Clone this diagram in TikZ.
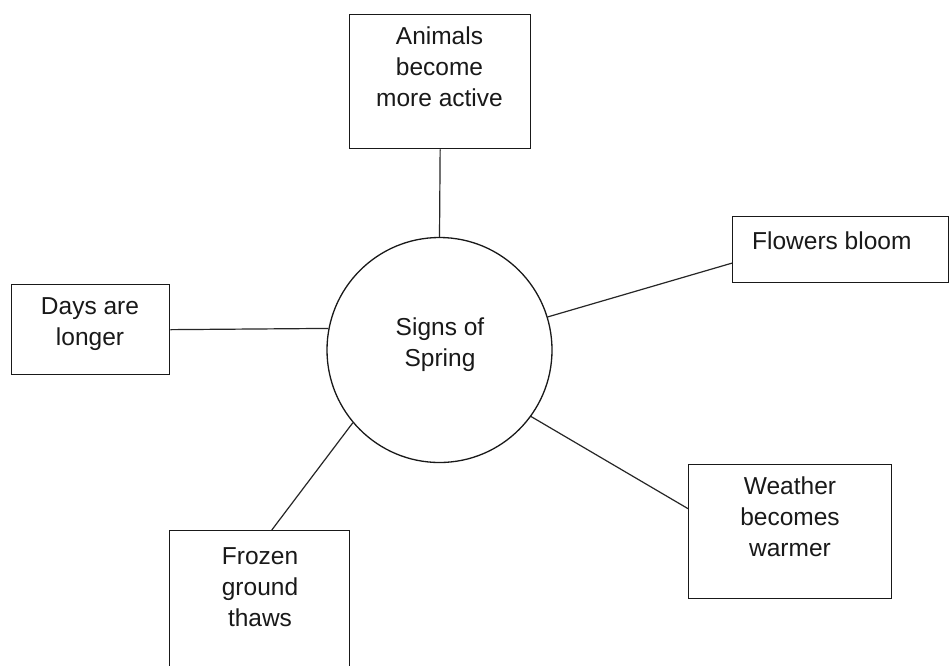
\documentclass[tikz,border=0pt]{standalone}
\usepackage{fontspec}
\setmainfont{Liberation Sans}
\usetikzlibrary{calc}
\tikzset{
  boxnode/.style={draw=black!90, line width=1.3pt, rectangle, inner sep=0pt, anchor=north west, fill=white},
  hubnode/.style={draw=black!90, line width=1.3pt, circle, inner sep=0pt, minimum size=225pt, fill=white},
  txt/.style={align=center, inner sep=0pt, anchor=north, text=black!90, font=\fontsize{24.5}{31}\selectfont},
  link/.style={draw=black!85, line width=1.2pt}
}
\begin{document}
\begin{tikzpicture}[x=1pt,y=-1pt]
\useasboundingbox (0,0) rectangle (949,665);
\clip (0,0) rectangle (949,665);
\fill[white] (0,0) rectangle (949,665);
% hub
\node[hubnode] (sp) at (439.5,350) {};
\node[txt] (spt) at (440,318) {Signs of\\Spring};
% boxes
\node[boxnode, minimum width=181pt, minimum height=134pt] (an) at (349,14) {};
\node[txt] (ant) at (439.5,27) {Animals\\become\\more active};
\node[boxnode, minimum width=216pt, minimum height=66pt] (fl) at (732,216) {};
\node[txt, anchor=north west] (flt) at (752,232) {Flowers bloom};
\node[boxnode, minimum width=158pt, minimum height=90pt] (dy) at (11,284) {};
\node[txt] (dyt) at (90,297) {Days are\\longer};
\node[boxnode, minimum width=203pt, minimum height=134pt] (we) at (688,464) {};
\node[txt] (wet) at (790,477) {Weather\\becomes\\warmer};
\node[boxnode, minimum width=180pt, minimum height=160pt] (fr) at (169,530) {};
\node[txt] (frt) at (260,547) {Frozen\\ground\\thaws};
% connectors
\draw[link] (an.south) -- (sp.90);
\draw[link] ($(fl.north west)!0.7!(fl.south west)$) -- (sp.17);
\draw[link] ($(dy.north east)!0.5!(dy.south east)$) -- (sp.169);
\draw[link] ($(we.north west)!0.33!(we.south west)$) -- (sp.-36);
\draw[link] ($(fr.north west)!0.567!(fr.north east)$) -- (sp.220);
\end{tikzpicture}
\end{document}
